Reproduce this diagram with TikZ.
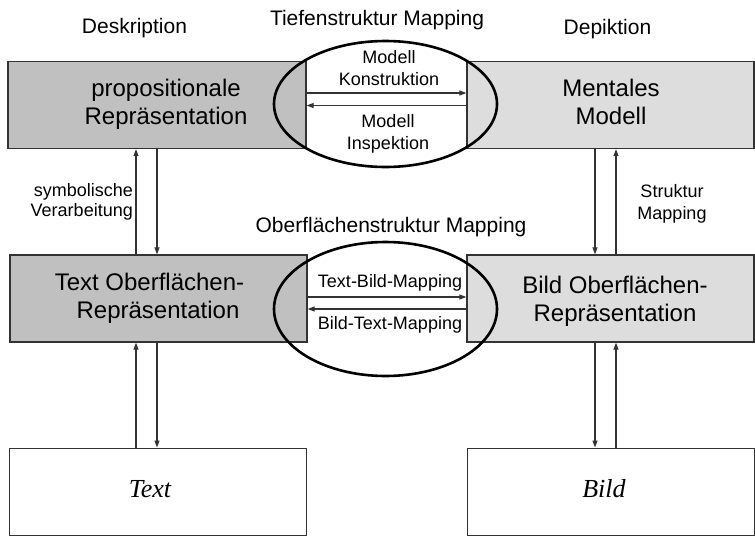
\documentclass[tikz,border=0pt]{standalone}
\usepackage{fontspec}
\setmainfont{Liberation Sans}
\newfontfamily\serifit{Liberation Serif}
\usetikzlibrary{arrows.meta,shapes.geometric}
\definecolor{leftgray}{RGB}{192,192,192}
\definecolor{rightgray}{RGB}{221,221,221}
\definecolor{edgegray}{RGB}{51,51,51}
\tikzset{
  box/.style={draw=edgegray, line width=1.3pt, inner sep=0pt},
  boxtext/.style={font=\fontsize{24}{28}\selectfont, align=center, inner sep=0pt},
  headtext/.style={font=\fontsize{21}{25}\selectfont, inner sep=0pt},
  smalltext/.style={font=\fontsize{18}{22}\selectfont, inner sep=0pt},
  conn/.style={draw=edgegray, line width=1.2pt, -{Triangle[length=7pt,width=5pt]}},
  mapell/.style={draw=black, ellipse, line width=2.6pt, inner sep=0pt}
}
\begin{document}
\begin{tikzpicture}[x=1pt,y=-1pt]
\useasboundingbox (0,0) rectangle (755,536);
% boxes
\node[box, fill=leftgray, minimum width=298pt, minimum height=87pt] (prop) at (157,105) {};
\node[box, fill=rightgray, minimum width=287pt, minimum height=87pt] (ment) at (610.5,105) {};
\node[box, fill=leftgray, minimum width=297pt, minimum height=87pt] (tos) at (158.5,298.5) {};
\node[box, fill=rightgray, minimum width=287pt, minimum height=87pt] (bos) at (610.5,298.5) {};
\node[box, fill=white, line width=1pt, minimum width=297pt, minimum height=87pt] (text) at (157.5,491.5) {};
\node[box, fill=white, line width=1pt, minimum width=287pt, minimum height=87pt] (bild) at (610.5,491.5) {};
% box texts
\node[boxtext] (tprop) at (166,104) {propositionale\\Repräsentation};
\node[boxtext] (tment) at (611,102) {Mentales\\Modell};
\node[boxtext] (ttos) at (158,298) {Text Oberflächen-\hspace*{17pt}\\Repräsentation};
\node[boxtext] (tbos) at (615,301) {Bild Oberflächen-\\Repräsentation};
\node[inner sep=0pt, font=\serifit\itshape\fontsize{26}{30}\selectfont] (ttext) at (150,489) {Text};
\node[inner sep=0pt, font=\serifit\itshape\fontsize{26}{30}\selectfont] (tbild) at (604,489) {Bild};
% headings
\node[headtext] (desk) at (134.5,28) {Deskription};
\node[headtext] (tief) at (377,20) {Tiefenstruktur Mapping};
\node[headtext] (depi) at (607.5,29) {Depiktion};
\node[headtext] (ober) at (391,227) {Oberflächenstruktur Mapping};
% side labels
\node[smalltext, anchor=east, align=right, font=\fontsize{18}{20}\selectfont] (symb) at (133,202) {symbolische\\Verarbeitung};
\node[smalltext, align=center] (strk) at (672,204) {Struktur\\Mapping};
% labels in ellipses
\node[smalltext, align=center] (mk) at (389,68) {Modell\\Konstruktion};
\node[smalltext, align=center] (mi) at (388,134) {Modell\\Inspektion};
\node[smalltext] (tb) at (390,283) {Text-Bild-Mapping};
\node[smalltext] (bt) at (390,325) {Bild-Text-Mapping};
% helper coordinates
\coordinate (xa) at (136,0);
\coordinate (xb) at (157,0);
\coordinate (xc) at (595,0);
\coordinate (xd) at (616,0);
\coordinate (ya) at (0,93);
\coordinate (yb) at (0,105.5);
\coordinate (yc) at (0,297);
\coordinate (yd) at (0,309);
% vertical connectors
\draw[conn] (tos.north -| xa) -- (prop.south -| xa);
\draw[conn] (prop.south -| xb) -- (tos.north -| xb);
\draw[conn] (text.north -| xa) -- (tos.south -| xa);
\draw[conn] (tos.south -| xb) -- (text.north -| xb);
\draw[conn] (ment.south -| xc) -- (bos.north -| xc);
\draw[conn] (bos.north -| xd) -- (ment.south -| xd);
\draw[conn] (bos.south -| xc) -- (bild.north -| xc);
\draw[conn] (bild.north -| xd) -- (bos.south -| xd);
% horizontal connectors
\draw[conn] (prop.east |- ya) -- (ment.west |- ya);
\draw[conn] (ment.west |- yb) -- (prop.east |- yb);
\draw[conn] (tos.east |- yc) -- (bos.west |- yc);
\draw[conn] (bos.west |- yd) -- (tos.east |- yd);
% ellipses
\node[mapell, minimum width=223pt, minimum height=126pt] (e1) at (385.5,104) {};
\node[mapell, minimum width=223pt, minimum height=134pt] (e2) at (385.5,309) {};
\end{tikzpicture}
\end{document}
